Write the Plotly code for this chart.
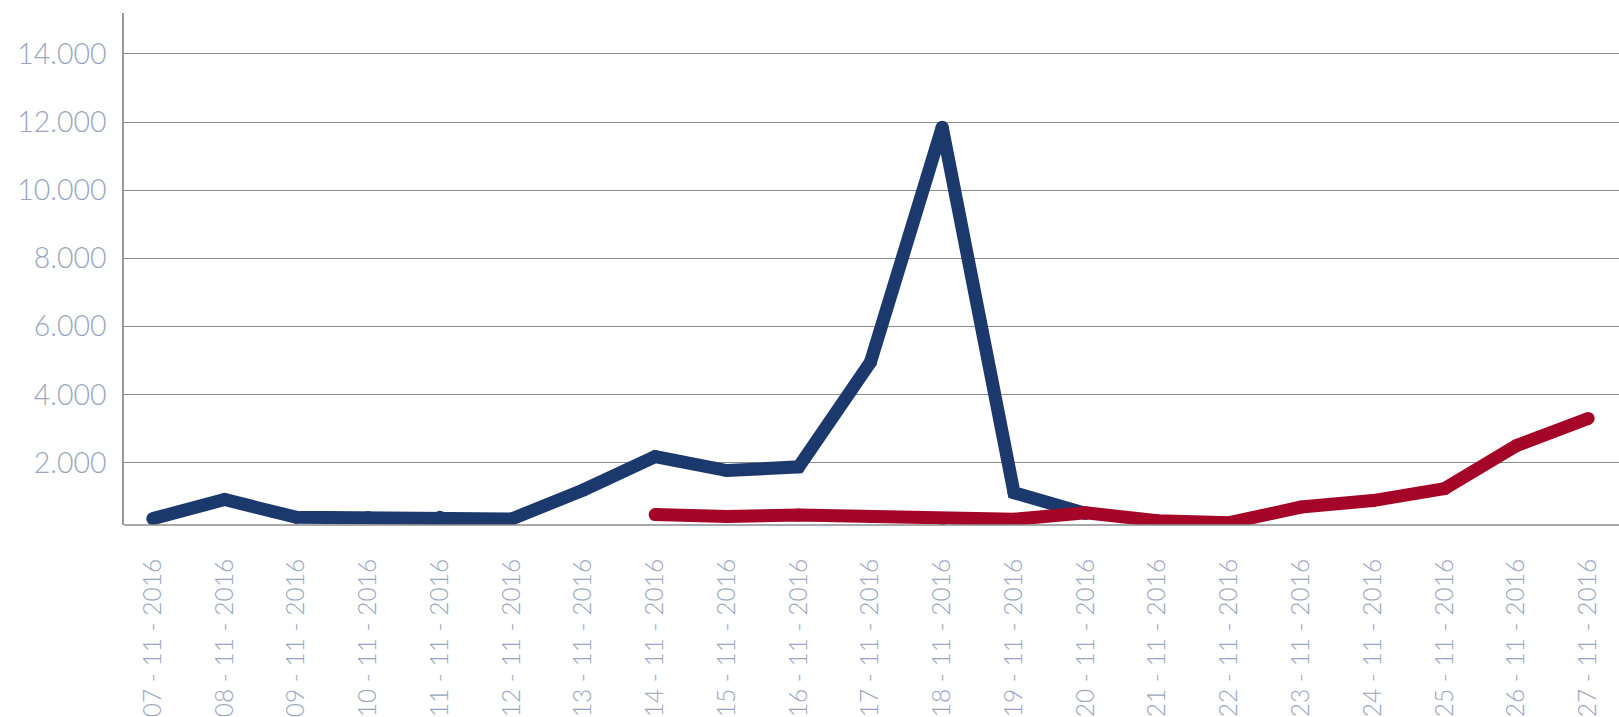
import plotly.graph_objects as go

dates = ["07 - 11 - 2016", "08 - 11 - 2016", "09 - 11 - 2016", "10 - 11 - 2016",
         "11 - 11 - 2016", "12 - 11 - 2016", "13 - 11 - 2016", "14 - 11 - 2016",
         "15 - 11 - 2016", "16 - 11 - 2016", "17 - 11 - 2016", "18 - 11 - 2016",
         "19 - 11 - 2016", "20 - 11 - 2016", "21 - 11 - 2016", "22 - 11 - 2016",
         "23 - 11 - 2016", "24 - 11 - 2016", "25 - 11 - 2016", "26 - 11 - 2016",
         "27 - 11 - 2016"]

blue_dates = dates[0:14]
blue_values = [360, 920, 400, 390, 400, 350, 1200, 2180, 1770, 1880, 4950, 11850, 1120, 510]

red_dates = dates[7:21]
red_values = [480, 420, 470, 420, 350, 340, 530, 300, 240, 700, 890, 1240, 2500, 3300]

y_ticks = [2000, 4000, 6000, 8000, 10000, 12000, 14000]

BLUE = "#1b396d"
RED = "#a50628"
LABEL = "#99a5c0"
LW = 13
FONT = "Lato Light, Lato, sans-serif"

fig = go.Figure()
fig.add_trace(go.Scatter(x=blue_dates, y=blue_values, mode="lines+markers",
                         line=dict(color=BLUE, width=LW),
                         marker=dict(color=BLUE, size=LW, line=dict(width=0)),
                         showlegend=False))
fig.add_trace(go.Scatter(x=red_dates, y=red_values, mode="lines+markers",
                         line=dict(color=RED, width=LW),
                         marker=dict(color=RED, size=LW, line=dict(width=0)),
                         showlegend=False))

fig.update_layout(
    width=1619, height=717,
    margin=dict(l=124, r=0, t=13, b=190),
    paper_bgcolor="white", plot_bgcolor="white",
    separators=",.",
    font=dict(family=FONT, size=24, color=LABEL, weight=300),
    xaxis=dict(type="category", categoryorder="array", categoryarray=dates,
               range=[-0.401, 20.43], tickangle=-90, showgrid=False,
               showline=False, zeroline=False, ticks="",
               ticklabelstandoff=28,
               tickfont=dict(family=FONT, size=24.5, color=LABEL, weight=300)),
    yaxis=dict(range=[173, 15200], tickvals=y_ticks, tickformat=",d",
               showgrid=True, gridcolor="#8c8c8c", gridwidth=1,
               showline=True, linecolor="#9a9a9a", linewidth=1.5,
               zeroline=False, ticks="", ticklabelstandoff=10,
               tickfont=dict(family=FONT, size=28.5, color=LABEL, weight=300)),
    shapes=[dict(type="line", xref="paper", yref="paper", x0=0, x1=1, y0=0, y1=0,
                 line=dict(color="#8c8c8c", width=1.5))],
)

fig.write_html("out.html", config={"displayModeBar": False},
               post_script="document.body.style.margin='0';document.body.style.overflow='hidden';")
